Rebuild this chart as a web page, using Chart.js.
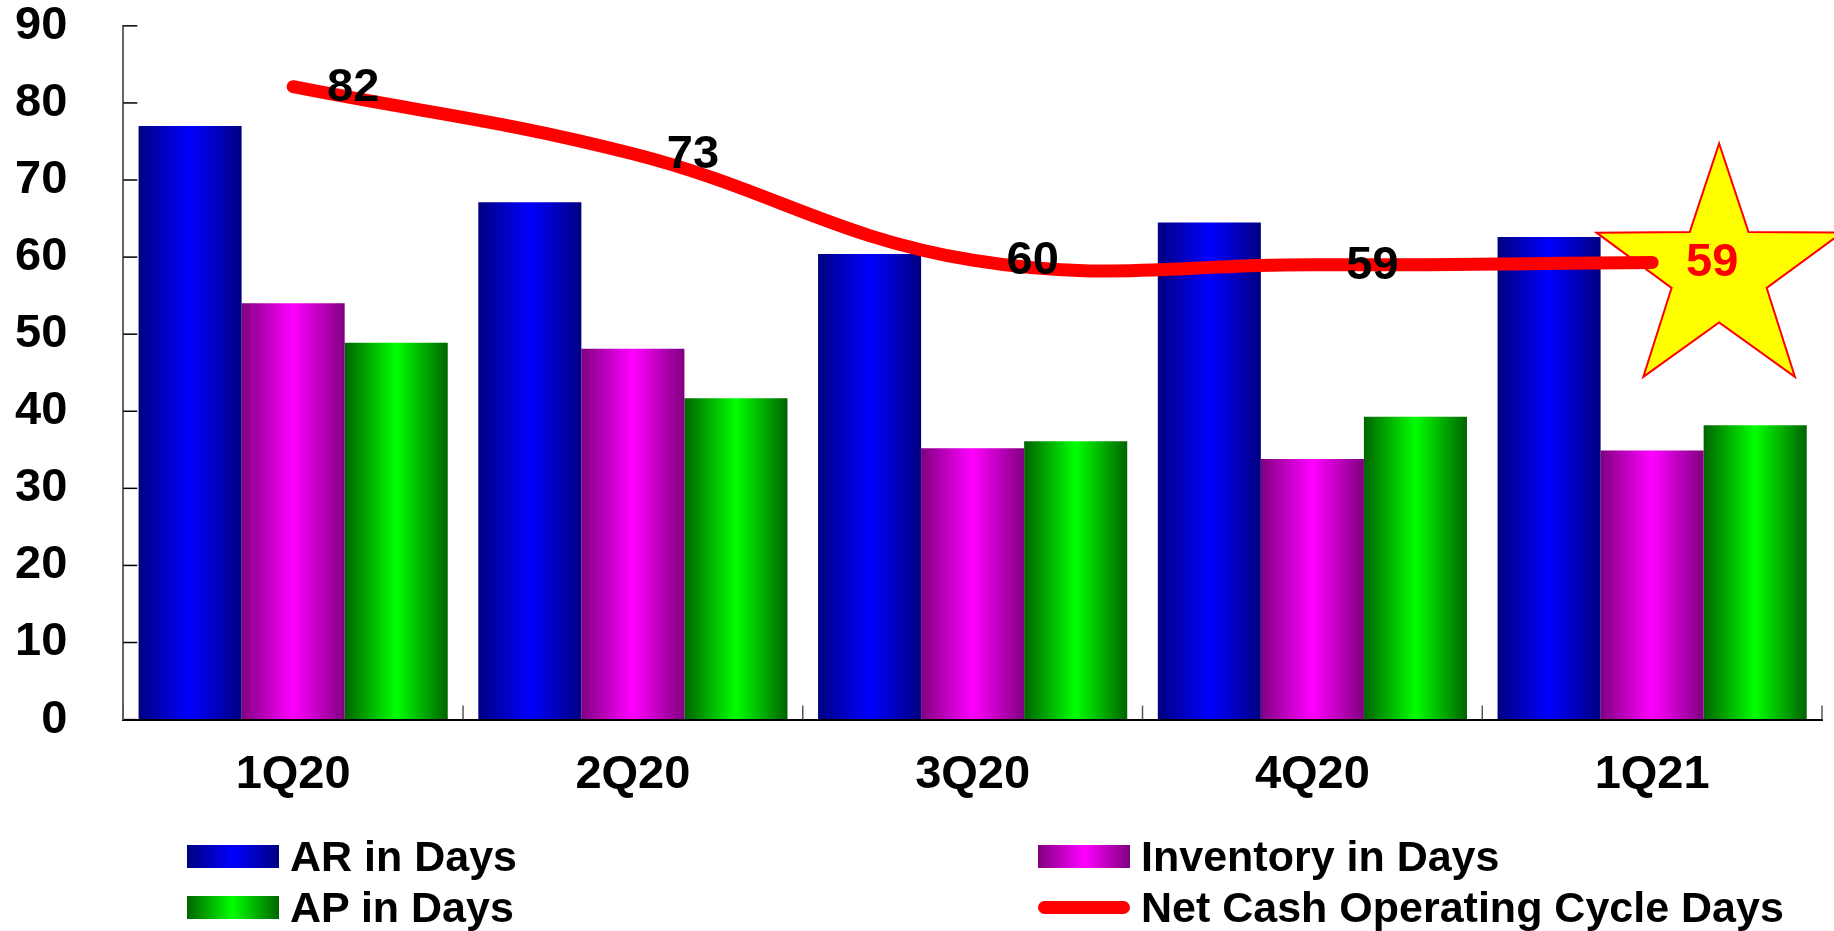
<!DOCTYPE html>
<html>
<head>
<meta charset="utf-8">
<script src="https://cdn.jsdelivr.net/npm/chart.js@4/dist/chart.umd.min.js"></script>
<style>
  html, body { margin: 0; padding: 0; background: #fff; }
  #wrap { position: relative; width: 1834px; height: 931px; }
  #legend { position: absolute; left: 0; top: 0; width: 1834px; height: 931px; pointer-events: none;
            font-family: "Liberation Sans", Arial, sans-serif; font-weight: bold; font-size: 43px; color: #000; }
  .item { position: absolute; height: 43px; line-height: 43px; display: flex; align-items: center; white-space: nowrap; }
  .sw { width: 92px; height: 23px; margin-right: 11px; }
  .ln { width: 92px; height: 13px; border-radius: 7px; background: #ff0000; margin-right: 11px; }
</style>
</head>
<body>
<div id="wrap">
  <canvas id="chart"></canvas>
  <div id="legend">
    <div class="item" style="left:187px; top:835px;"><span class="sw" style="background:linear-gradient(to right,#000080,#0000ff 50%,#000080);"></span>AR in Days</div>
    <div class="item" style="left:1038px; top:835px;"><span class="sw" style="background:linear-gradient(to right,#800080,#ff00ff 50%,#800080);"></span>Inventory in Days</div>
    <div class="item" style="left:187px; top:886px;"><span class="sw" style="background:linear-gradient(to right,#006400,#00ff00 50%,#006400);"></span>AP in Days</div>
    <div class="item" style="left:1038px; top:886px;"><span class="ln"></span>Net Cash Operating Cycle Days</div>
  </div>
</div>
<script>
const categories = ['1Q20', '2Q20', '3Q20', '4Q20', '1Q21'];
const arDays = [77.0, 67.1, 60.4, 64.5, 62.6];
const inventoryDays = [54.0, 48.1, 35.2, 33.8, 34.9];
const apDays = [48.9, 41.7, 36.1, 39.3, 38.2];
const netCycleDays = [82.1, 73.4, 59.6, 59.0, 59.3];
const yTicks = [0, 10, 20, 30, 40, 50, 60, 70, 80, 90];

const CAT_PCT = 0.91;
const FONT = '"Liberation Sans", Arial, sans-serif';

// bar fill: dark edges, bright middle, per bar
function barGradient(dark, bright) {
    return function (context) {
        const chart = context.chart;
        const xScale = chart.scales.x;
        if (!xScale || context.dataIndex === undefined || !xScale.width) return bright;
        const catW = xScale.width / categories.length;
        const barW = catW * CAT_PCT / 3;
        const left = xScale.getPixelForValue(context.dataIndex) - catW * CAT_PCT / 2 + context.datasetIndex * barW;
        const g = chart.ctx.createLinearGradient(left, 0, left + barW, 0);
        g.addColorStop(0, dark);
        g.addColorStop(0.5, bright);
        g.addColorStop(1, dark);
        return g;
    };
}

function drawStar(ctx, cx, cy, R, r) {
    ctx.beginPath();
    for (let i = 0; i < 10; i++) {
        const rad = i % 2 === 0 ? R : r;
        const a = -Math.PI / 2 + i * Math.PI / 5;
        const px = cx + rad * Math.cos(a);
        const py = cy + rad * Math.sin(a);
        if (i === 0) ctx.moveTo(px, py); else ctx.lineTo(px, py);
    }
    ctx.closePath();
}

const extras = {
    id: 'extras',
    beforeDatasetsDraw(chart) {
        // star behind the last value
        const meta = chart.getDatasetMeta(3);
        const last = meta.data[meta.data.length - 1];
        const ctx = chart.ctx;
        ctx.save();
        drawStar(ctx, last.x + 67, last.y + 10, 129, 50);
        ctx.fillStyle = '#ffff00';
        ctx.fill();
        ctx.lineWidth = 2;
        ctx.strokeStyle = '#ff0000';
        ctx.stroke();
        ctx.restore();
    },
    afterDatasetsDraw(chart) {
        const ctx = chart.ctx;
        const area = chart.chartArea;
        const xScale = chart.scales.x;
        const yScale = chart.scales.y;
        ctx.save();

        // inside tick marks
        ctx.strokeStyle = '#000';
        ctx.lineWidth = 1.5;
        yScale.ticks.forEach(t => {
            const y = yScale.getPixelForValue(t.value);
            ctx.beginPath();
            ctx.moveTo(area.left, y);
            ctx.lineTo(area.left + 14, y);
            ctx.stroke();
        });
        ctx.strokeStyle = '#555';
        const catW = xScale.width / categories.length;
        for (let i = 0; i <= categories.length; i++) {
            const x = xScale.left + i * catW;
            ctx.beginPath();
            ctx.moveTo(x, area.bottom);
            ctx.lineTo(x, area.bottom - 14);
            ctx.stroke();
        }

        // value labels on the line
        const meta = chart.getDatasetMeta(3);
        ctx.font = 'bold 47px ' + FONT;
        ctx.textAlign = 'center';
        ctx.textBaseline = 'middle';
        meta.data.forEach((pt, i) => {
            ctx.fillStyle = i === meta.data.length - 1 ? '#ff0000' : '#000';
            ctx.fillText(Math.round(netCycleDays[i]).toString(), pt.x + 60, pt.y + 1);
        });
        ctx.restore();
    }
};

new Chart(document.getElementById('chart').getContext('2d'), {
    type: 'bar',
    data: {
        labels: categories,
        datasets: [
            { label: 'AR in Days', data: arDays, backgroundColor: barGradient('#000080', '#0000ff'), order: 1 },
            { label: 'Inventory in Days', data: inventoryDays, backgroundColor: barGradient('#800080', '#ff00ff'), order: 1 },
            { label: 'AP in Days', data: apDays, backgroundColor: barGradient('#006400', '#00ff00'), order: 1 },
            {
                type: 'line', label: 'Net Cash Operating Cycle Days', data: netCycleDays,
                borderColor: '#ff0000', borderWidth: 13, borderCapStyle: 'round', borderJoinStyle: 'round',
                tension: 0.4, pointRadius: 0, fill: false, order: 0
            }
        ]
    },
    options: {
        responsive: true,
        maintainAspectRatio: false,
        animation: false,
        datasets: { bar: { categoryPercentage: CAT_PCT, barPercentage: 1.0 } },
        layout: { padding: { left: 15, right: 12, top: 0, bottom: 128 } },
        plugins: { legend: { display: false }, tooltip: { enabled: false } },
        scales: {
            x: {
                // transparent tick marks only reserve the gap under the axis
                grid: { display: true, drawOnChartArea: false, drawTicks: true, tickLength: 27, tickColor: 'rgba(0,0,0,0)' },
                border: { color: '#000', width: 2 },
                ticks: { color: '#000', padding: 0, font: { family: FONT, size: 47, weight: 'bold' } }
            },
            y: {
                min: 0, max: 90,
                afterBuildTicks: axis => { axis.ticks = yTicks.map(v => ({ value: v })); },
                grid: { display: true, drawOnChartArea: false, drawTicks: true, tickLength: 56, tickColor: 'rgba(0,0,0,0)' },
                border: { color: '#666', width: 2 },
                ticks: { color: '#000', padding: 0, font: { family: FONT, size: 47, weight: 'bold', lineHeight: 1.1 } }
            }
        }
    },
    plugins: [extras]
});
</script>
</body>
</html>
